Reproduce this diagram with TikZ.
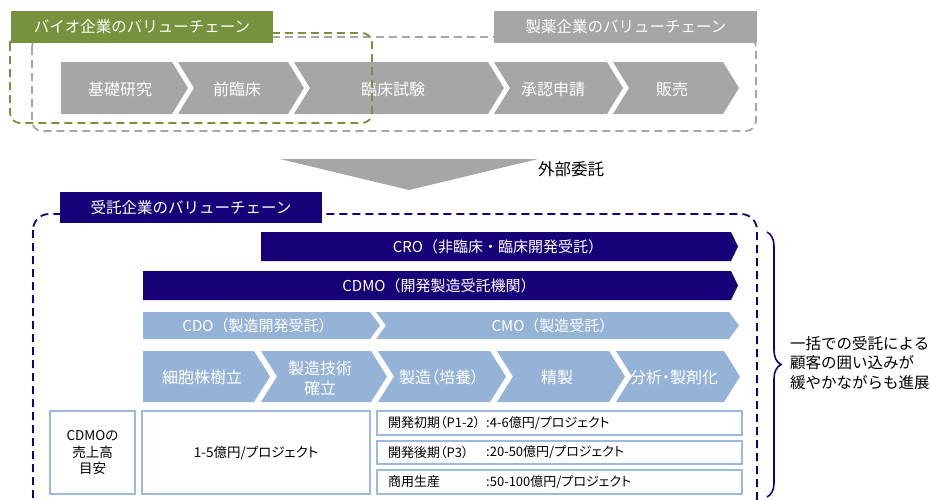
\documentclass[tikz,border=0pt]{standalone}
\usepackage{fontspec}
\setmainfont{Noto Sans CJK JP}
\newfontfamily\pfont{Noto Sans CJK JP}[RawFeature=+palt]
\usetikzlibrary{decorations.pathreplacing}
\definecolor{cgreen}{HTML}{76923C}
\definecolor{cgray}{HTML}{A6A6A6}
\definecolor{cnavy}{HTML}{180078}
\definecolor{clblue}{HTML}{95B3D7}
\definecolor{cbord}{HTML}{9DBADC}
\newcommand\chevN[6]{\fill[#6] (#1,#3) -- (#2,#3) -- ({#2+#5},{(#3+#4)/2}) -- (#2,#4) -- (#1,#4) -- ({#1+#5},{(#3+#4)/2}) -- cycle;}
\newcommand\chevF[6]{\fill[#6] (#1,#3) -- (#2,#3) -- ({#2+#5},{(#3+#4)/2}) -- (#2,#4) -- (#1,#4) -- cycle;}
\tikzset{
  lbl/.style={text=white, font=\fontsize{15.5}{17}\selectfont, inner sep=0pt},
  chevtxt/.style={text=white, font=\fontsize{16}{20}\selectfont, align=center, inner sep=0pt},
  pchevtxt/.style={text=white, font=\pfont\fontsize{16}{20}\selectfont, align=center, inner sep=0pt},
  bartxt/.style={text=white, font=\fontsize{15}{17}\selectfont, inner sep=0pt},
  boxtxt/.style={text=black, font=\pfont\fontsize{13.5}{16.5}\selectfont, align=center, inner sep=0pt},
  rowtxt/.style={text=black, font=\pfont\fontsize{13}{15}\selectfont, anchor=west, inner sep=0pt},
  dsh/.style={line width=1.8pt, dash pattern=on 8pt off 5pt},
  sbox/.style={draw=cbord, line width=1.5pt, fill=white}
}
\begin{document}
\begin{tikzpicture}[x=1pt,y=-1pt]
\useasboundingbox (0,0) rectangle (931,499);
\clip (0,0) rectangle (931,499);
% top section
\draw[dsh, cgray, rounded corners=10pt] (32,37) rectangle (756,131);
\chevF{61}{172}{62}{114}{16}{cgray}
\chevN{178}{288}{62}{114}{16}{cgray}
\chevN{294}{488}{62}{114}{16}{cgray}
\chevN{494}{607}{62}{114}{16}{cgray}
\chevN{613}{723}{62}{114}{16}{cgray}
\node[chevtxt] (s1) at (120,89) {基礎研究};
\node[chevtxt] (s2) at (237,89) {前臨床};
\node[chevtxt] (s3) at (393,89) {臨床試験};
\node[chevtxt] (s4) at (553,89) {承認申請};
\node[chevtxt] (s5) at (672,89) {販売};
\draw[dsh, cgreen, rounded corners=10pt] (10,33) rectangle (372,123);
\fill[cgreen] (11,11) rectangle (273,43);
\node[lbl] (bio) at (142,27) {バイオ企業のバリューチェーン};
\fill[cgray] (494,11) rectangle (757,43);
\node[lbl] (pharma) at (626,27) {製薬企業のバリューチェーン};
% arrow
\fill[cgray] (280,159) -- (538,159) -- (409,190) -- cycle;
\node[text=black, font=\fontsize{16.5}{18}\selectfont, inner sep=0pt] (ext) at (571,169) {外部委託};
% bottom section
\draw[dsh, cnavy, rounded corners=16pt] (33,214) rectangle (757,530);
\fill[cnavy] (60,192) rectangle (322,223);
\node[lbl] (cmo) at (191,208) {受託企業のバリューチェーン};
\chevF{261}{731}{232}{261}{7}{cnavy}
\node[bartxt] (cro) at (498,246.5) {CRO（非臨床・臨床開発受託）};
\chevF{143}{731}{271}{300}{7}{cnavy}
\node[bartxt] (cdmo) at (439,285.5) {CDMO（開発製造受託機関）};
\chevF{143}{370}{312}{339}{10}{clblue}
\chevN{376}{729}{312}{339}{10}{clblue}
\node[bartxt] (cdo) at (258,325.5) {CDO（製造開発受託）};
\node[bartxt] (cmob) at (553,325.5) {CMO（製造受託）};
\chevF{143}{254}{351}{402}{16}{clblue}
\chevN{261}{371}{351}{402}{16}{clblue}
\chevN{378}{490}{351}{402}{16}{clblue}
\chevN{497}{609}{351}{402}{16}{clblue}
\chevN{616}{724}{351}{402}{16}{clblue}
\node[chevtxt] (p1) at (202,377) {細胞株樹立};
\node[chevtxt] (p2) at (320,378) {製造技術\\確立};
\node[pchevtxt] (p3) at (439,377) {製造（培養）};
\node[chevtxt] (p4) at (557,377) {精製};
\node[pchevtxt] (p5) at (674,377) {分析・製剤化};
% boxes
\draw[sbox] (50,411) rectangle (135,494);
\node[boxtxt] (sales) at (92.5,453) {CDMOの\\売上高\\目安};
\draw[sbox] (142,411) rectangle (370,494);
\node[boxtxt] (r0) at (256,453) {1-5億円/プロジェクト};
\draw[sbox] (377,411) rectangle (742,435);
\draw[sbox] (377,441) rectangle (742,464);
\draw[sbox] (377,470) rectangle (742,494);
\node[rowtxt] (r1a) at (388,423) {開発初期（P1-2）};
\node[rowtxt] (r1b) at (486,423) {:4-6億円/プロジェクト};
\node[rowtxt] (r2a) at (388,452.5) {開発後期（P3）};
\node[rowtxt] (r2b) at (486,452.5) {:20-50億円/プロジェクト};
\node[rowtxt] (r3a) at (388,482) {商用生産};
\node[rowtxt] (r3b) at (486,482) {:50-100億円/プロジェクト};
% brace
\coordinate (bt) at (767,232);
\coordinate (bb) at (767,497);
\draw[cnavy, line width=1.6pt, decorate, decoration={brace, amplitude=14pt}] (bt) -- (bb);
\node[text=black, font=\fontsize{15.5}{19.5}\selectfont, align=left, anchor=west, inner sep=0pt] (note) at (790,363) {一括での受託による\\顧客の囲い込みが\\緩やかながらも進展};
\end{tikzpicture}
\end{document}
